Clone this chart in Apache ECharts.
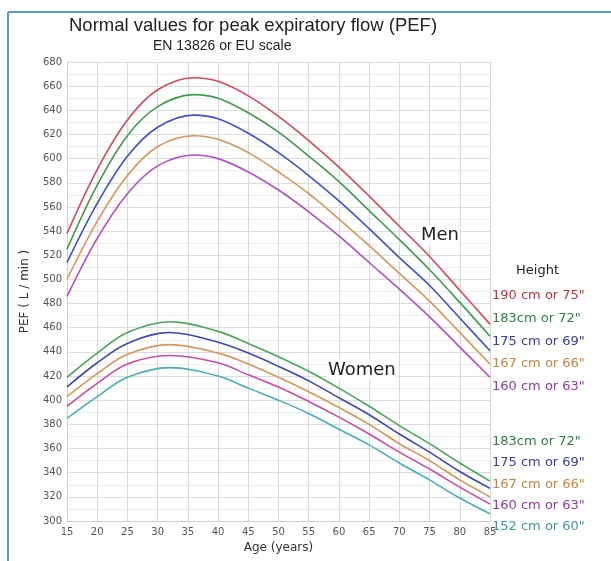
<!DOCTYPE html>
<html>
<head>
<meta charset="utf-8">
<script src="https://cdn.jsdelivr.net/npm/echarts@6/dist/echarts.min.js"></script>
<style>
html,body{margin:0;padding:0;background:#fff;}
#chart{width:611px;height:561px;}
</style>
</head>
<body>
<div id="chart"></div>
<script>
// ages (peak age added for each group)
var menAges = [15, 20, 25, 30, 36, 40, 45, 50, 55, 60, 65, 70, 75, 80, 85];
var womenAges = [15, 20, 25, 32, 40, 45, 50, 55, 60, 65, 70, 75, 80, 85];

// men, by height (L/min)
var men190 = [538, 591, 632, 657, 667, 664, 652, 635, 615, 593, 569, 544, 519, 491, 463];
var men183 = [525, 578, 619, 643, 653, 650, 638, 622, 602, 581, 557, 533, 508, 481, 453];
var men175 = [514, 563, 602, 626, 636, 633, 621, 605, 586, 565, 542, 518, 495, 468, 441];
var men167 = [500, 548, 586, 610, 619, 616, 605, 589, 571, 550, 528, 505, 482, 456, 430];
var men160 = [486, 534, 571, 594, 603, 600, 589, 574, 556, 536, 514, 492, 469, 444, 419];

// women, by height (L/min)
var women183 = [419, 439, 456, 465, 457, 447, 436, 424, 410, 395, 379, 364, 348, 333];
var women175 = [411, 431, 447, 456, 448, 439, 428, 416, 402, 388, 372, 357, 341, 327];
var women167 = [403, 422, 438, 446, 439, 430, 419, 407, 394, 380, 364, 350, 334, 320];
var women160 = [395, 414, 430, 437, 431, 421, 411, 399, 386, 372, 357, 343, 328, 314];
var women152 = [385, 403, 419, 427, 420, 410, 400, 389, 376, 363, 348, 334, 319, 306];

var menLabels = ['190 cm or 75"', '183cm or 72"', '175 cm or 69"', '167 cm or 66"', '160 cm or 63"'];
var womenLabels = ['183cm or 72"', '175 cm or 69"', '167 cm or 66"', '160 cm or 63"', '152 cm or 60"'];

var menColors = ['#d9475a', '#3f9a4e', '#3d4fd0', '#d8955a', '#b64cc8'];
var womenColors = ['#4aa65a', '#3d45b8', '#d8955a', '#c74aa8', '#45b0b8'];
var menLabelColors = ['#c8323c', '#2e8040', '#3a3aa8', '#cc8040', '#9a34b0'];
var womenLabelColors = ['#2e8040', '#3a3aa8', '#cc8040', '#9a34b0', '#3a9aa0'];

var FONT = '"DejaVu Sans", Verdana, sans-serif';

function pairs(xs, vals){
    var out = [];
    for (var i = 0; i < xs.length; i++) {
        out.push([xs[i], vals[i]]);
    }
    return out;
}

function lineSeries(name, xs, vals, color){
    return {
        name: name,
        type: 'line',
        data: pairs(xs, vals),
        smooth: 0.35,
        showSymbol: false,
        lineStyle: {color: color, width: 1.6},
        itemStyle: {color: color}
    };
}

var series = [];
var menData = [men190, men183, men175, men167, men160];
var womenData = [women183, women175, women167, women160, women152];
for (var i = 0; i < 5; i++) {
    series.push(lineSeries('Men ' + menLabels[i], menAges, menData[i], menColors[i]));
}
for (var j = 0; j < 5; j++) {
    series.push(lineSeries('Women ' + womenLabels[j], womenAges, womenData[j], womenColors[j]));
}

// height labels at the right
var graphics = [
    {type: 'text', left: 516, top: 264, style: {text: 'Height', font: '13px ' + FONT, fill: '#222'}},
    {type: 'text', left: 420, top: 225, z: 10, style: {text: 'Men', font: '18px ' + FONT, fill: '#222', backgroundColor: '#fff', padding: 1}},
    {type: 'text', left: 327, top: 360, z: 10, style: {text: 'Women', font: '18px ' + FONT, fill: '#222', backgroundColor: '#fff', padding: 1}}
];
var menTops = [289, 312, 335, 357, 380];
var womenTops = [435, 456, 478, 499, 520];
for (var k = 0; k < 5; k++) {
    graphics.push({type: 'text', left: 492, top: menTops[k],
        style: {text: menLabels[k], font: '13px ' + FONT, fill: menLabelColors[k]}});
    graphics.push({type: 'text', left: 492, top: womenTops[k],
        style: {text: womenLabels[k], font: '13px ' + FONT, fill: womenLabelColors[k]}});
}
// blue frame
graphics.push({type: 'line', shape: {x1: 8, y1: 12, x2: 611, y2: 12}, style: {stroke: '#5b9bd5', lineWidth: 2}});
graphics.push({type: 'line', shape: {x1: 8, y1: 12, x2: 8, y2: 561}, style: {stroke: '#5b9bd5', lineWidth: 2}});

var chart = echarts.init(document.getElementById('chart'));
chart.setOption({
    animation: false,
    backgroundColor: '#fff',
    title: [
        {text: 'Normal values for peak expiratory flow (PEF)', left: 64, top: 11,
         textStyle: {fontFamily: '"Liberation Sans", Arial', fontSize: 18.5, fontWeight: 'normal', color: '#222'}},
        {text: 'EN 13826 or EU scale', left: 148, top: 34,
         textStyle: {fontFamily: '"Liberation Sans", Arial', fontSize: 14, fontWeight: 'normal', color: '#222'}}
    ],
    grid: {left: 67, right: 121, top: 62, bottom: 40},
    xAxis: {
        type: 'value', min: 15, max: 85, interval: 5,
        name: 'Age (years)', nameLocation: 'middle', nameGap: 20,
        nameTextStyle: {fontFamily: FONT, fontSize: 12, color: '#333'},
        axisLine: {show: true, lineStyle: {color: '#ccc', type: 'dashed'}},
        axisTick: {show: false},
        axisLabel: {fontFamily: FONT, fontSize: 10, color: '#555', margin: 6},
        splitLine: {show: true, lineStyle: {color: '#d8d8d8'}}
    },
    yAxis: {
        type: 'value', min: 300, max: 680, interval: 20,
        name: 'PEF ( L / min )', nameLocation: 'middle', nameGap: 36,
        nameTextStyle: {fontFamily: FONT, fontSize: 12, color: '#333'},
        axisLine: {show: true, lineStyle: {color: '#d0d0d0'}},
        axisTick: {show: false},
        axisLabel: {fontFamily: FONT, fontSize: 10, color: '#555', margin: 5},
        splitLine: {show: true, lineStyle: {color: '#dcdcdc'}},
        minorTick: {show: false, splitNumber: 2},
        minorSplitLine: {show: true, lineStyle: {color: '#ececec'}}
    },
    graphic: graphics,
    series: series
});
</script>
</body>
</html>
